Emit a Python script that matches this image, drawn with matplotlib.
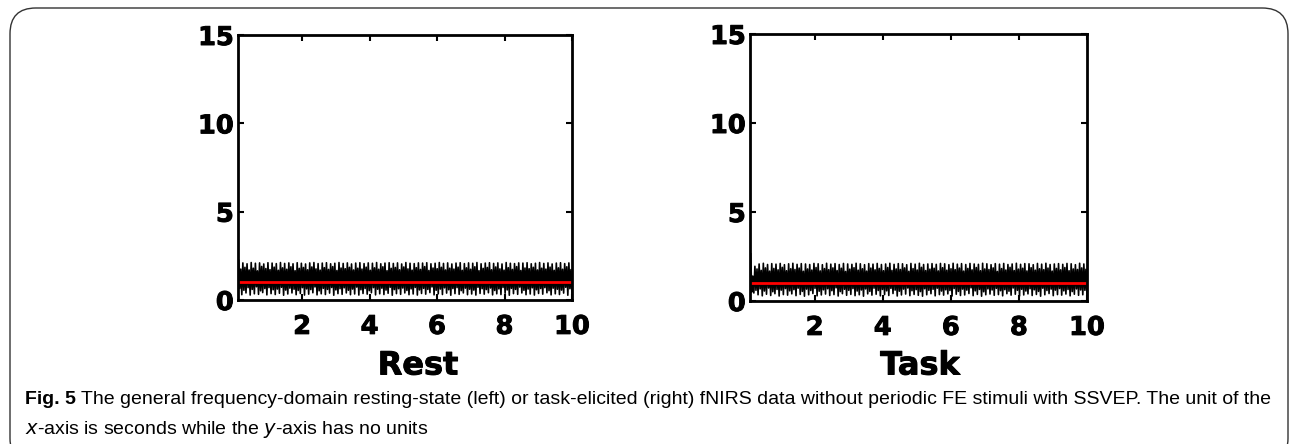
import numpy as np
import matplotlib
matplotlib.use("Agg")
import matplotlib.pyplot as plt
import matplotlib.patheffects as pe
from matplotlib.patches import FancyBboxPatch

# ---------------- data ----------------
panel_titles = ["Rest", "Task"]
x_ticks = [2, 4, 6, 8, 10]
y_ticks = [0, 5, 10, 15]
x_range = [0.1, 10.0]
y_range = [0, 15]
red_level = [1.0, 1.0]

rest_high = [2.25, 2.10, 2.05, 2.12, 2.08, 2.10, 2.04, 2.11, 2.09, 2.06,
             2.12, 2.07, 2.10, 2.05, 2.11, 2.08, 2.04, 2.10, 2.12, 2.06,
             2.09, 2.11, 2.05, 2.08, 2.12, 2.07, 2.10, 2.04, 2.09, 2.11,
             2.06, 2.10, 2.08, 2.12, 2.05, 2.09, 2.11, 2.07, 2.10, 2.04,
             2.12, 2.08, 2.06, 2.10, 2.09, 2.11, 2.05, 2.08, 2.12, 2.07,
             2.10, 2.04, 2.09, 2.11, 2.06, 2.10, 2.08, 2.12, 2.05, 2.09,
             2.11, 2.07, 2.10, 2.04, 2.12, 2.08, 2.06, 2.10, 2.09, 2.11,
             2.05, 2.08, 2.12, 2.07, 2.10, 2.04, 2.09, 2.11, 2.06, 2.10]
rest_mid_a = [0.65, 0.55, 0.70, 0.60, 0.75, 0.52, 0.65, 0.70, 0.58, 0.62,
              0.72, 0.56, 0.67, 0.61, 0.54, 0.70, 0.63, 0.59, 0.74, 0.52,
              0.66, 0.60, 0.71, 0.57, 0.64, 0.69, 0.55, 0.62, 0.73, 0.58,
              0.65, 0.53, 0.70, 0.61, 0.67, 0.56, 0.72, 0.59, 0.64, 0.68,
              0.54, 0.63, 0.71, 0.57, 0.66, 0.60, 0.74, 0.55, 0.62, 0.69,
              0.58, 0.65, 0.70, 0.53, 0.67, 0.61, 0.56, 0.72, 0.64, 0.59,
              0.68, 0.54, 0.63, 0.71, 0.57, 0.66, 0.60, 0.73, 0.55, 0.62,
              0.69, 0.58, 0.65, 0.70, 0.53, 0.67, 0.61, 0.56, 0.72, 0.64]
rest_mid_b = [1.75, 1.85, 1.70, 1.80, 1.65, 1.90, 1.78, 1.72, 1.86, 1.68,
              1.82, 1.74, 1.88, 1.66, 1.79, 1.84, 1.71, 1.87, 1.76, 1.69,
              1.83, 1.73, 1.89, 1.67, 1.81, 1.77, 1.85, 1.70, 1.80, 1.75,
              1.86, 1.68, 1.82, 1.74, 1.88, 1.66, 1.79, 1.84, 1.71, 1.87,
              1.76, 1.69, 1.83, 1.73, 1.89, 1.67, 1.81, 1.77, 1.85, 1.70,
              1.80, 1.75, 1.86, 1.68, 1.82, 1.74, 1.88, 1.66, 1.79, 1.84,
              1.71, 1.87, 1.76, 1.69, 1.83, 1.73, 1.89, 1.67, 1.81, 1.77,
              1.85, 1.70, 1.80, 1.75, 1.86, 1.68, 1.82, 1.74, 1.88, 1.72]
rest_low = [0.30, 0.40, 0.28, 0.35, 0.32, 0.42, 0.29, 0.36, 0.31, 0.38,
            0.27, 0.34, 0.40, 0.30, 0.37, 0.28, 0.33, 0.41, 0.29, 0.35,
            0.31, 0.39, 0.27, 0.36, 0.32, 0.40, 0.30, 0.34, 0.28, 0.37,
            0.33, 0.41, 0.29, 0.35, 0.31, 0.38, 0.27, 0.36, 0.32, 0.40,
            0.30, 0.34, 0.28, 0.37, 0.33, 0.42, 0.29, 0.35, 0.31, 0.39,
            0.27, 0.36, 0.32, 0.40, 0.30, 0.34, 0.28, 0.37, 0.33, 0.41,
            0.29, 0.35, 0.31, 0.38, 0.27, 0.36, 0.32, 0.40, 0.30, 0.34,
            0.28, 0.37, 0.33, 0.41, 0.29, 0.35, 0.31, 0.39, 0.27, 0.33]

task_high = [2.65, 1.95, 2.08, 2.12, 2.05, 2.10, 2.07, 2.11, 2.04, 2.09,
             2.12, 2.06, 2.10, 2.08, 2.05, 2.11, 2.09, 2.04, 2.12, 2.07,
             2.10, 2.05, 2.11, 2.08, 2.06, 2.12, 2.09, 2.04, 2.10, 2.07,
             2.11, 2.05, 2.08, 2.12, 2.06, 2.10, 2.09, 2.04, 2.11, 2.07,
             2.12, 2.05, 2.08, 2.10, 2.06, 2.11, 2.09, 2.04, 2.12, 2.07,
             2.10, 2.05, 2.11, 2.08, 2.06, 2.12, 2.09, 2.04, 2.10, 2.07,
             2.11, 2.05, 2.08, 2.12, 2.06, 2.10, 2.09, 2.04, 2.11, 2.07,
             2.12, 2.05, 2.08, 2.10, 2.06, 2.11, 2.09, 2.04, 2.12, 2.08]
task_mid_a = [0.50, 0.60, 0.68, 0.56, 0.73, 0.52, 0.65, 0.61, 0.70, 0.57,
              0.64, 0.72, 0.54, 0.67, 0.59, 0.71, 0.55, 0.63, 0.69, 0.58,
              0.74, 0.53, 0.66, 0.60, 0.70, 0.56, 0.62, 0.68, 0.54, 0.72,
              0.59, 0.65, 0.57, 0.71, 0.61, 0.55, 0.67, 0.73, 0.58, 0.64,
              0.53, 0.69, 0.60, 0.66, 0.72, 0.56, 0.63, 0.59, 0.70, 0.54,
              0.67, 0.61, 0.74, 0.57, 0.65, 0.52, 0.68, 0.62, 0.71, 0.58,
              0.64, 0.55, 0.73, 0.60, 0.66, 0.56, 0.69, 0.63, 0.54, 0.72,
              0.59, 0.67, 0.61, 0.70, 0.57, 0.65, 0.53, 0.68, 0.62, 0.60]
task_mid_b = [1.40, 1.80, 1.72, 1.86, 1.68, 1.83, 1.75, 1.89, 1.70, 1.81,
              1.77, 1.85, 1.67, 1.80, 1.74, 1.88, 1.69, 1.82, 1.76, 1.86,
              1.71, 1.84, 1.66, 1.79, 1.87, 1.73, 1.81, 1.68, 1.85, 1.75,
              1.83, 1.70, 1.88, 1.72, 1.80, 1.77, 1.86, 1.67, 1.82, 1.74,
              1.89, 1.71, 1.79, 1.84, 1.69, 1.87, 1.73, 1.81, 1.76, 1.85,
              1.68, 1.83, 1.75, 1.88, 1.70, 1.80, 1.77, 1.86, 1.66, 1.82,
              1.74, 1.89, 1.71, 1.79, 1.84, 1.69, 1.87, 1.73, 1.81, 1.76,
              1.85, 1.68, 1.83, 1.75, 1.88, 1.70, 1.80, 1.77, 1.86, 1.78]
task_low = [0.45, 0.35, 0.29, 0.38, 0.31, 0.41, 0.28, 0.36, 0.33, 0.40,
            0.30, 0.37, 0.27, 0.35, 0.42, 0.29, 0.34, 0.39, 0.31, 0.36,
            0.28, 0.41, 0.32, 0.37, 0.30, 0.35, 0.27, 0.40, 0.33, 0.38,
            0.29, 0.36, 0.31, 0.42, 0.28, 0.34, 0.39, 0.30, 0.37, 0.32,
            0.27, 0.35, 0.41, 0.29, 0.36, 0.33, 0.40, 0.28, 0.38, 0.31,
            0.34, 0.42, 0.30, 0.37, 0.27, 0.35, 0.39, 0.32, 0.36, 0.29,
            0.41, 0.33, 0.38, 0.28, 0.34, 0.40, 0.31, 0.37, 0.27, 0.35,
            0.42, 0.30, 0.36, 0.33, 0.39, 0.29, 0.38, 0.32, 0.35, 0.31]

caption_bold = "Fig. 5"
caption_rest = (" The general frequency-domain resting-state (left) or task-elicited (right) fNIRS data "
                "without periodic FE stimuli with SSVEP. The unit of the")
caption_line2 = ("$\\it{x}$-axis is seconds while the $\\it{y}$-axis has no units")

# ---------------- figure ----------------
W, H, DPI = 1290, 444, 100
fig = plt.figure(figsize=(W / DPI, H / DPI), dpi=DPI)

border = FancyBboxPatch((10 / W, -20 / H), 1278 / W, (H + 20 - 8) / H,
                        boxstyle="round,pad=0,rounding_size=0.02",
                        transform=fig.transFigure, fill=False,
                        edgecolor="#333333", linewidth=1.0, mutation_aspect=W / H)
fig.patches.append(border)

heavy = [pe.withStroke(linewidth=0.7, foreground="black")]
tick_font = dict(family=["DejaVu Sans"], weight="bold", size=18.5)
label_font = dict(family=["DejaVu Sans"], weight="bold", size=23)

def build_signal(high, mid_a, mid_b, low):
    vals = []
    for h, a, b, l in zip(high, mid_a, mid_b, low):
        vals.extend([h, a, b, l])
    return np.array(vals)

panels = [
    dict(rect=[238 / W, 1 - 300 / H, (572 - 238) / W, (300 - 35) / H],
         y=build_signal(rest_high, rest_mid_a, rest_mid_b, rest_low),
         title=panel_titles[0], red=red_level[0], label_x=418 / W),
    dict(rect=[750 / W, 1 - 301 / H, (1087 - 750) / W, (301 - 34) / H],
         y=build_signal(task_high, task_mid_a, task_mid_b, task_low),
         title=panel_titles[1], red=red_level[1], label_x=920 / W),
]

for p in panels:
    ax = fig.add_axes(p["rect"])
    y = p["y"]
    x = np.linspace(x_range[0] + 0.02, x_range[1], len(y))
    ax.plot(x, y, color="black", linewidth=1.2)
    ax.axhline(p["red"], color="red", linewidth=2.0)
    ax.set_xlim(*x_range)
    ax.set_ylim(*y_range)
    ax.set_xticks(x_ticks)
    ax.set_yticks(y_ticks)
    ax.set_xticklabels([str(t) for t in x_ticks], **tick_font)
    ax.set_yticklabels([str(t) for t in y_ticks], **tick_font)
    for lab in ax.get_xticklabels() + ax.get_yticklabels():
        lab.set_path_effects(heavy)
    ax.tick_params(direction="in", length=4, width=1.5, top=True, right=True,
                   color="black")
    ax.tick_params(axis="x", pad=10)
    ax.tick_params(axis="y", pad=3)
    for s in ax.spines.values():
        s.set_linewidth(2.0)
    t = fig.text(p["label_x"], 1 - 366 / H, p["title"], ha="center", va="center", **label_font)
    t.set_path_effects(heavy)

cap_family = ["Liberation Sans", "DejaVu Sans"]
cap_size = 11.0
target_right = 1272
for _ in range(3):
    for t in list(fig.texts):
        if getattr(t, "_is_caption", False):
            t.remove()
    t1 = fig.text(25 / W, 1 - 399 / H, caption_bold, ha="left", va="center",
                  family=cap_family, weight="bold", size=cap_size)
    t1._is_caption = True
    fig.canvas.draw()
    bb = t1.get_window_extent()
    t2 = fig.text(bb.x1 / W, 1 - 399 / H, caption_rest, ha="left", va="center",
                  family=cap_family, size=cap_size)
    t2._is_caption = True
    fig.canvas.draw()
    right = t2.get_window_extent().x1
    cap_size *= (target_right - 25) / (right - 25)

t3 = fig.text(25 / W, 1 - 429 / H, caption_line2, ha="left", va="center",
              family=cap_family, size=t1.get_fontsize())

fig.savefig("out.png", dpi=DPI)
